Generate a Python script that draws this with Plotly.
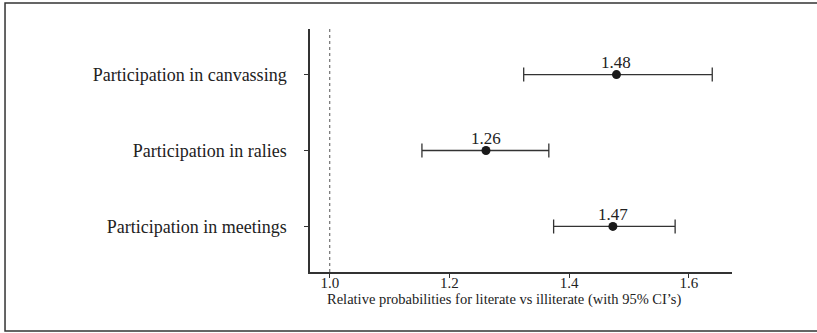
import plotly.graph_objects as go

categories = ["Participation in meetings", "Participation in ralies", "Participation in canvassing"]
estimates = [1.473, 1.261, 1.479]
ci_low = [1.374, 1.154, 1.324]
ci_high = [1.577, 1.366, 1.639]
labels = ["1.47", "1.26", "1.48"]
x_ticks = [1.0, 1.2, 1.4, 1.6]
x_ticklabels = ["1.0", "1.2", "1.4", "1.6"]
reference_value = 1.0

ypos = list(range(1, len(categories) + 1))
err_plus = [h - e for h, e in zip(ci_high, estimates)]
err_minus = [e - l for e, l in zip(estimates, ci_low)]

FONT = "Liberation Serif"
INK = "#222222"

fig = go.Figure()
fig.add_trace(go.Scatter(
    x=estimates, y=ypos, mode="markers",
    marker=dict(size=9, color="#1a1a1a"),
    error_x=dict(type="data", array=err_plus, arrayminus=err_minus,
                 color="#333333", thickness=1.3, width=7),
    showlegend=False, cliponaxis=False,
))

for xv, yv, lab in zip(estimates, ypos, labels):
    fig.add_annotation(x=xv, y=yv, xref="x", yref="y", text=lab, showarrow=False,
                       xanchor="center", yanchor="middle", yshift=12,
                       font=dict(family=FONT, size=17, color=INK))

fig.add_shape(type="line", x0=reference_value, x1=reference_value, y0=0.4, y1=3.6,
              xref="x", yref="y", line=dict(color="#555555", width=1, dash="dot"))

# outer frame
fig.add_shape(type="rect", xref="paper", yref="paper",
              x0=-0.7227, x1=1.25, y0=-0.2428, y1=1.107,
              line=dict(color="#333333", width=1.5), fillcolor="rgba(0,0,0,0)", layer="below")

fig.add_annotation(text="Relative probabilities for literate vs illiterate (with 95% CI\u2019s)",
                   xref="paper", yref="paper", x=(504 - 310) / 422, y=(272 - 299) / 243,
                   showarrow=False, xanchor="center", yanchor="middle",
                   font=dict(family=FONT, size=14.5, color=INK))

fig.update_layout(
    width=817, height=333,
    margin=dict(l=310, r=85, t=29, b=61),
    paper_bgcolor="white", plot_bgcolor="white",
    font=dict(family=FONT, color=INK),
    xaxis=dict(range=[0.967, 1.672], tickvals=x_ticks, ticktext=x_ticklabels,
               showgrid=False, zeroline=False, showline=True, linecolor="#333333", linewidth=1.5,
               ticks="outside", ticklen=4, tickcolor="#333333", tickwidth=1,
               ticklabelstandoff=-8,
               tickfont=dict(family=FONT, size=15, color=INK)),
    yaxis=dict(range=[0.4, 3.6], tickvals=ypos, ticktext=categories,
               showgrid=False, zeroline=False, showline=True, linecolor="#333333", linewidth=1.5,
               ticks="outside", ticklen=4, tickcolor="#333333", tickwidth=1,
               ticklabelstandoff=14,
               tickfont=dict(family=FONT, size=18, color=INK)),
)

fig.write_html("out.html")
